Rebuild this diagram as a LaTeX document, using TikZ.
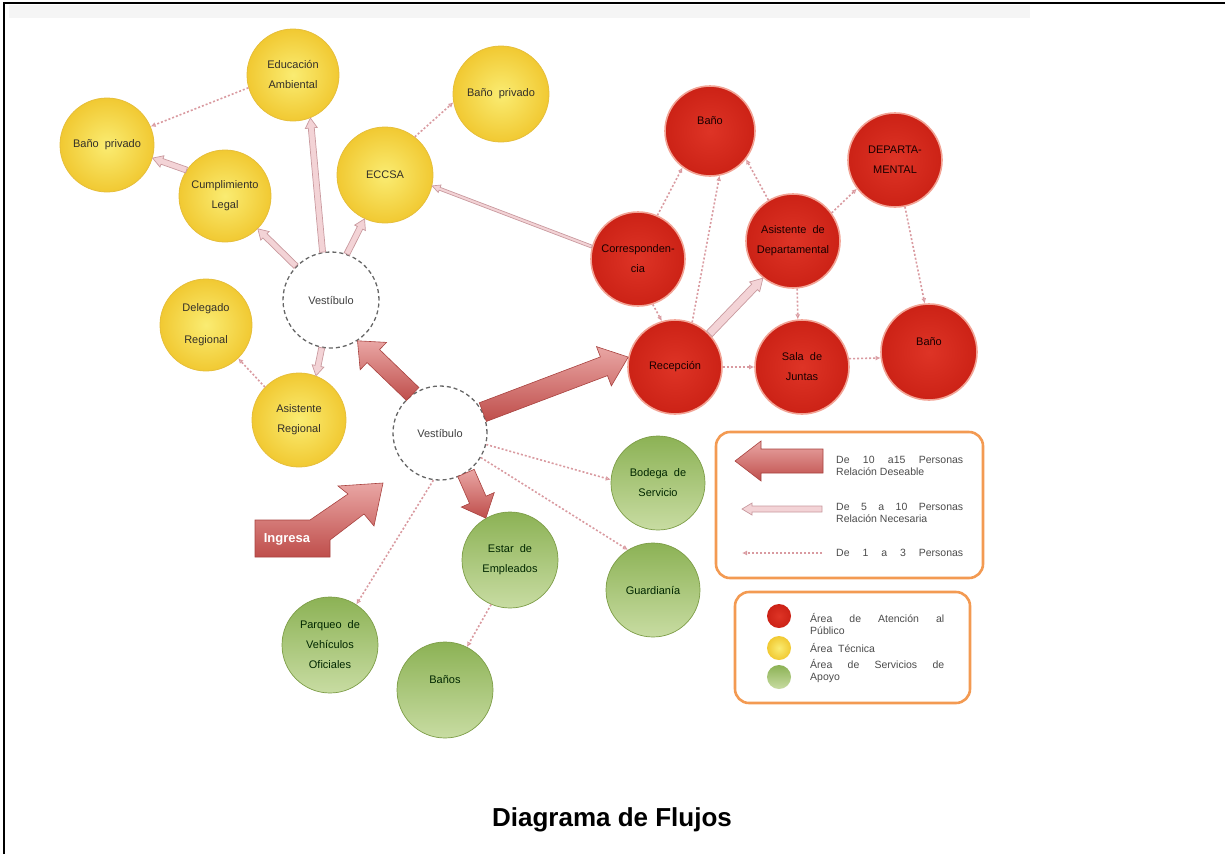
\documentclass[tikz,border=0pt]{standalone}
\usepackage{fontspec}
\setmainfont{Liberation Sans}
\usetikzlibrary{calc,arrows.meta}

\definecolor{yelIn}{HTML}{FAEC72}
\definecolor{yelOut}{HTML}{F1C932}
\definecolor{yelRim}{HTML}{E6BE3A}
\definecolor{redIn}{HTML}{DE3426}
\definecolor{redOut}{HTML}{CC2216}
\definecolor{redRim}{HTML}{F2A496}
\definecolor{grnTop}{HTML}{8CB255}
\definecolor{grnBot}{HTML}{C8DCA2}
\definecolor{grnRim}{HTML}{7D9D47}
\definecolor{bigTop}{HTML}{E9A6A4}
\definecolor{bigBot}{HTML}{BF4E4B}
\definecolor{bigRim}{HTML}{A8423F}
\definecolor{pinkFill}{HTML}{F3D3D6}
\definecolor{pinkRim}{HTML}{C99A9F}
\definecolor{dotPink}{HTML}{D99AA0}
\definecolor{legOrange}{HTML}{F39A52}

% block arrow from #2 to #3: shaft half-width #4, head half-width #5, head length #6
\newcommand{\flowarrow}[6]{%
  \coordinate (ff-s) at (#2);
  \coordinate (ff-e) at (#3);
  \coordinate (ff-h) at ($(ff-e)!#6!(ff-s)$);
  \path[#1] ($(ff-s)!#4!90:(ff-e)$) -- ($(ff-h)!#4!-90:(ff-s)$)
    -- ($(ff-h)!#5!-90:(ff-s)$) -- (ff-e) -- ($(ff-h)!#5!90:(ff-s)$)
    -- ($(ff-h)!#4!90:(ff-s)$) -- ($(ff-s)!#4!-90:(ff-e)$) -- cycle;
}

\begin{document}
\begin{tikzpicture}[x=1pt,y=-1pt,
  bub/.style={circle, inner sep=0pt, minimum size=94pt, align=center,
    font=\fontsize{11}{20}\selectfont},
  yel/.style={bub, inner color=yelIn, outer color=yelOut, draw=yelRim,
    line width=0.8pt, text=black!85!olive},
  red/.style={bub, inner color=redIn, outer color=redOut, draw=redRim,
    line width=1.6pt, text=black!90!red},
  grn/.style={bub, top color=grnTop, bottom color=grnBot, draw=grnRim,
    line width=0.7pt, text=black!85!green},
  hall/.style={bub, fill=white, draw=black!60, line width=1.3pt,
    dash pattern=on 4pt off 3pt, text=black!75},
  bigflow/.style={top color=bigTop, bottom color=bigBot, draw=bigRim,
    line width=0.6pt},
  pinkflow/.style={fill=pinkFill, draw=pinkRim, line width=0.7pt},
  dotflow/.style={draw=dotPink, line width=1.6pt, dash pattern=on 2pt off 2pt,
    -{Latex[open,length=5pt,width=5pt]}},
  legbox/.style={draw=legOrange, line width=2.6pt, rounded corners=14pt,
    fill=white, inner sep=0pt},
  legtext/.style={anchor=west, inner sep=0pt, align=left,
    font=\fontsize{10.5}{11.5}\selectfont, text=black!70}
]
\useasboundingbox (0,0) rectangle (1225,854);

% page frame and faint header band
\fill[black!4] (9,5) rectangle (1030,18);
\draw[line width=2.5pt] (4,854) -- (4,3) -- (1225,3);

% technical area (yellow)
\node[yel, minimum size=92pt] (edu)   at (293,75)  {Educación\\Ambiental};
\node[yel] (banoL) at (107,145) {Baño\ \ privado};
\node[yel, minimum size=92pt] (cumpl) at (225,196) {Cumplimiento\\Legal};
\node[yel, minimum size=96pt] (banoR) at (501,94)  {Baño\ \ privado};
\node[yel, minimum size=96pt] (eccsa) at (385,175) {ECCSA};
\node[yel, minimum size=92pt] (deleg) at (206,325) {Delegado\\[12pt]Regional};
\node[yel] (asisR) at (299,420) {Asistente\\Regional};

% halls
\node[hall, minimum size=96pt] (vu) at (331,300) {Vestíbulo};
\node[hall] (vl) at (440,433) {Vestíbulo};

% public attention area (red)
\node[red, minimum size=90pt] (banoT) at (710,131) {Baño\\ \mbox{}};
\node[red] (dept)   at (895,160) {DEPARTA-\\MENTAL};
\node[red] (corr)   at (638,259) {Corresponden-\\cia};
\node[red] (asisD)  at (793,241) {Asistente\ \ de\\Departamental};
\node[red] (recep)  at (675,367) {Recepción};
\node[red] (sala)   at (802,367) {Sala\ \ de\\Juntas};
\node[red, minimum size=96pt] (banoRR) at (929,352) {Baño\\ \mbox{}};

% support services (green)
\node[grn] (bodega) at (658,483) {Bodega\ \ de\\Servicio};
\node[grn] (guard)  at (653,590) {Guardianía};
\node[grn, minimum size=96pt] (estar) at (510,560) {Estar\ \ de\\Empleados};
\node[grn, minimum size=96pt] (parq)  at (330,645) {Parqueo\ \ de\\Vehículos\\Oficiales};
\node[grn, minimum size=96pt] (banos) at (445,690) {Baños\\ \mbox{}};

% 10 to 15 people
\flowarrow{bigflow}{vl.125}{vu.-57}{9pt}{19pt}{22pt}
\flowarrow{bigflow}{vl.26}{recep.168}{10pt}{21pt}{26pt}
\flowarrow{bigflow}{vl.-57}{estar.120}{9pt}{18pt}{20pt}

% 5 to 10 people
\flowarrow{pinkflow}{vu.100}{edu.-68}{3pt}{6pt}{10pt}
\flowarrow{pinkflow}{vu.71}{eccsa.-115}{3pt}{6pt}{10pt}
\flowarrow{pinkflow}{vu.136}{cumpl.-45}{3pt}{6pt}{10pt}
\flowarrow{pinkflow}{vu.-101}{asisR.69}{3pt}{6pt}{10pt}
\flowarrow{pinkflow}{cumpl.146}{banoL.-16}{3pt}{6pt}{10pt}
\flowarrow{pinkflow}{recep.44}{asisD.-129}{4pt}{7pt}{12pt}
\flowarrow{pinkflow}{corr.165}{eccsa.-13}{1.5pt}{4pt}{8pt}

% 1 to 3 people
\draw[dotflow] (edu.-164) -- (banoL.23);
\draw[dotflow] (eccsa.52) -- (banoR.-170);
\draw[dotflow] (asisR.136) -- (deleg.-46);
\draw[dotflow] (corr.66) -- (banoT.-127);
\draw[dotflow] (recep.69) -- (banoT.-78);
\draw[dotflow] (asisD.121) -- (banoT.-38);
\draw[dotflow] (asisD.36) -- (dept.-143);
\draw[dotflow] (dept.-78) -- (banoRR.95);
\draw[dotflow] (asisD.-85) -- (sala.95);
\draw[dotflow] (recep.0) -- (sala.180);
\draw[dotflow] (sala.10) -- (banoRR.187);
\draw[dotflow] (corr.-72) -- (recep.106);
\draw[dotflow] (vl.-14) -- (bodega.176);
\draw[dotflow] (vl.-31) -- (guard.122);
\draw[dotflow] (vl.-98) -- (parq.57);
\draw[dotflow] (estar.-113) -- (banos.63);

% entrance arrow
\path[bigflow] (255,557) -- (255,520) -- (310,520) -- (348,494) -- (338,486)
  -- (383,483) -- (374,526) -- (364,514) -- (330,540) -- (330,557) -- cycle;
\node[font=\fontsize{13}{13}\selectfont\bfseries, text=white] (ingresa)
  at (287,539) {Ingresa};

% legend: flows
\node[legbox, minimum width=267pt, minimum height=146pt] (leg1) at (849.5,505) {};
\coordinate (l1s) at (823,461);
\coordinate (l1e) at (735,461);
\flowarrow{bigflow}{l1s}{l1e}{12pt}{20pt}{26pt}
\coordinate (l2s) at (822,509);
\coordinate (l2e) at (742,509);
\flowarrow{pinkflow}{l2s}{l2e}{3pt}{6pt}{10pt}
\coordinate (l3s) at (822,553);
\coordinate (l3e) at (742,553);
\draw[dotflow] (l3s) -- (l3e);
\node[legtext] (t1) at (836,466) {\makebox[127pt][s]{De 10 a15 Personas}\\Relación Deseable};
\node[legtext] (t2) at (836,513) {\makebox[127pt][s]{De 5 a 10 Personas}\\Relación Necesaria};
\node[legtext] (t3) at (836,553) {\makebox[127pt][s]{De 1 a 3 Personas}};

% legend: areas
\node[legbox, minimum width=235pt, minimum height=111pt] (leg2) at (852.5,647.5) {};
\node[circle, minimum size=24pt, inner sep=0pt, inner color=redIn, outer color=redOut] (k1) at (779,616) {};
\node[circle, minimum size=24pt, inner sep=0pt, inner color=yelIn, outer color=yelOut] (k2) at (779,648) {};
\node[circle, minimum size=24pt, inner sep=0pt, top color=grnTop, bottom color=grnBot] (k3) at (779,677) {};
\node[legtext] (a1) at (810,624) {\makebox[134pt][s]{Área de Atención al}\\Público};
\node[legtext] (a2) at (810,648) {Área\ \ Técnica};
\node[legtext] (a3) at (810,671) {\makebox[134pt][s]{Área de Servicios de}\\Apoyo};

% caption
\node[font=\fontsize{26}{26}\selectfont\bfseries] (title) at (612,820) {Diagrama de Flujos};
\end{tikzpicture}
\end{document}
